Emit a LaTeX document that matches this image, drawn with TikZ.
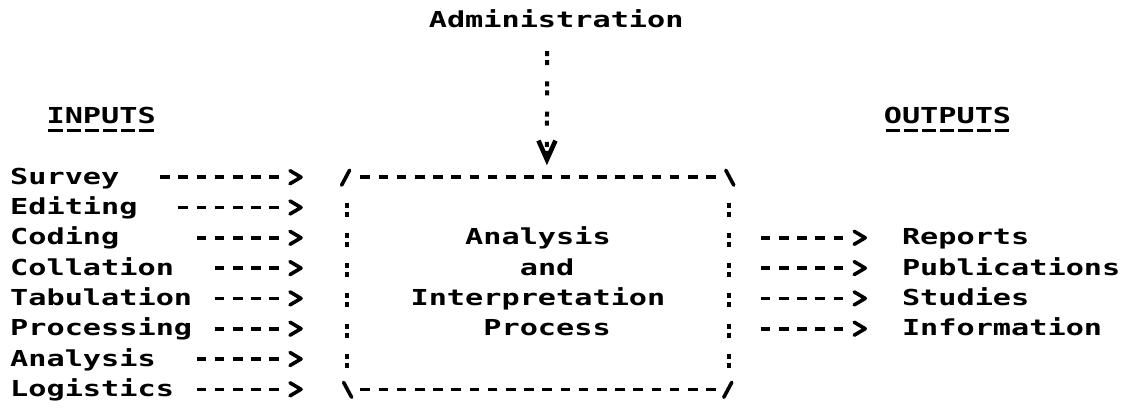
\documentclass[tikz,border=0pt]{standalone}
\usepackage{fontspec}
\newfontfamily\typewriter{DejaVu Sans Mono}[FakeStretch=1.374]
\usetikzlibrary{arrows.meta,calc}

\tikzset{
  txt/.style={anchor=base west,inner sep=0pt,font=\typewriter\bfseries\fontsize{22pt}{30.3pt}\selectfont},
  dashes/.style={line width=3.6pt,dash pattern=on 9.6pt off 8.6pt},
  colons/.style={line width=4pt,dash pattern=on 5pt off 4pt on 5pt off 16.3pt},
  underl/.style={line width=2.6pt,dash pattern=on 14.2pt off 4pt},
  chev/.style={line width=3.6pt,line join=round,line cap=round},
  slash/.style={line width=3.6pt,line cap=round},
}

\begin{document}
\begin{tikzpicture}[x=18.2pt,y=-30.3pt]
\fill[white] (-10pt,32.7pt) rectangle (1128pt,-375.3pt);
\useasboundingbox (-10pt,32.7pt) rectangle (1128pt,-375.3pt);

% headings
\node[txt] (admin) at ([yshift=5.2pt]23,0) {Administration};
\node[txt] (inputs) at (2,3) {INPUTS};
\node[txt] (outputs) at (48,3) {OUTPUTS};
\draw[underl] ([xshift=2pt,yshift=-7pt]inputs.base west) -- ([xshift=-2pt,yshift=-7pt]inputs.base east);
\draw[underl] ([xshift=2pt,yshift=-7pt]outputs.base west) -- ([xshift=-2pt,yshift=-7pt]outputs.base east);

% left and right columns
\foreach \nm/\lab/\row in {survey/Survey/5,editing/Editing/6,coding/Coding/7,collation/Collation/8,
    tabulation/Tabulation/9,processing/Processing/10,analysis/Analysis/11,logistics/Logistics/12}
  \node[txt] (\nm) at (0,\row) {\lab};
\foreach \nm/\lab/\row in {reports/Reports/7,publications/Publications/8,studies/Studies/9,information/Information/10}
  \node[txt] (\nm) at (49,\row) {\lab};

% the process box
\node[txt] (proc1) at (25,7) {Analysis};
\node[txt] (proc2) at (28,8) {and};
\node[txt] (proc3) at (22,9) {Interpretation};
\node[txt] (proc4) at (26,10) {Process};

\coordinate (boxl) at (18,0);
\coordinate (boxr) at (39,0);
\coordinate (boxtop) at ([xshift=9.1pt,yshift=7pt]29,5);

\draw[dashes] ([xshift=4.5pt,yshift=7pt]19,5) -- ([xshift=14.1pt,yshift=7pt]38,5);
\draw[dashes] ([xshift=4.5pt,yshift=7pt]19,12) -- ([xshift=14.1pt,yshift=7pt]38,12);
\draw[colons] ([xshift=9.1pt,yshift=12pt]boxl |- 0,6) -- ([xshift=9.1pt,yshift=-2pt]boxl |- 0,11);
\draw[colons] ([xshift=9.1pt,yshift=12pt]boxr |- 0,6) -- ([xshift=9.1pt,yshift=-2pt]boxr |- 0,11);
\draw[slash] ([xshift=4pt,yshift=-1pt]18,5) -- ([xshift=12pt,yshift=14pt]18,5);
\draw[slash] ([xshift=6pt,yshift=14pt]39,5) -- ([xshift=14pt,yshift=-1pt]39,5);
\draw[slash] ([xshift=6pt,yshift=14pt]18,12) -- ([xshift=14pt,yshift=-1pt]18,12);
\draw[slash] ([xshift=4pt,yshift=-1pt]39,12) -- ([xshift=12pt,yshift=14pt]39,12);

% administration feeds in from the top
\draw[colons,-{Straight Barb[length=19pt,width=17pt,line width=4.6pt]},shorten >=12pt]
  ([xshift=-9.1pt,yshift=12pt]admin.base |- 0,1) -- (boxtop);

% inputs
\foreach \nm/\s in {survey/8,editing/9,coding/10,collation/11,tabulation/11,processing/11,analysis/10,logistics/10}{
  \draw[dashes] ([shift={(\s,0)},xshift=4.5pt,yshift=7pt]\nm.base west) -- ($(\nm.base west -| boxl)+(-58.7pt,7pt)$);
  \draw[chev] ($(\nm.base west -| boxl)+(-47.6pt,13.5pt)$) -- ++(11pt,-6.5pt) -- ++(-11pt,-6.5pt);
}

% outputs
\foreach \nm in {reports,publications,studies,information}{
  \draw[dashes] ($(\nm.base west -| boxr)+(40.9pt,7pt)$) -- ($(\nm.base west)+(-58.7pt,7pt)$);
  \draw[chev] ($(\nm.base west)+(-47.6pt,13.5pt)$) -- ++(11pt,-6.5pt) -- ++(-11pt,-6.5pt);
}
\end{tikzpicture}
\end{document}
